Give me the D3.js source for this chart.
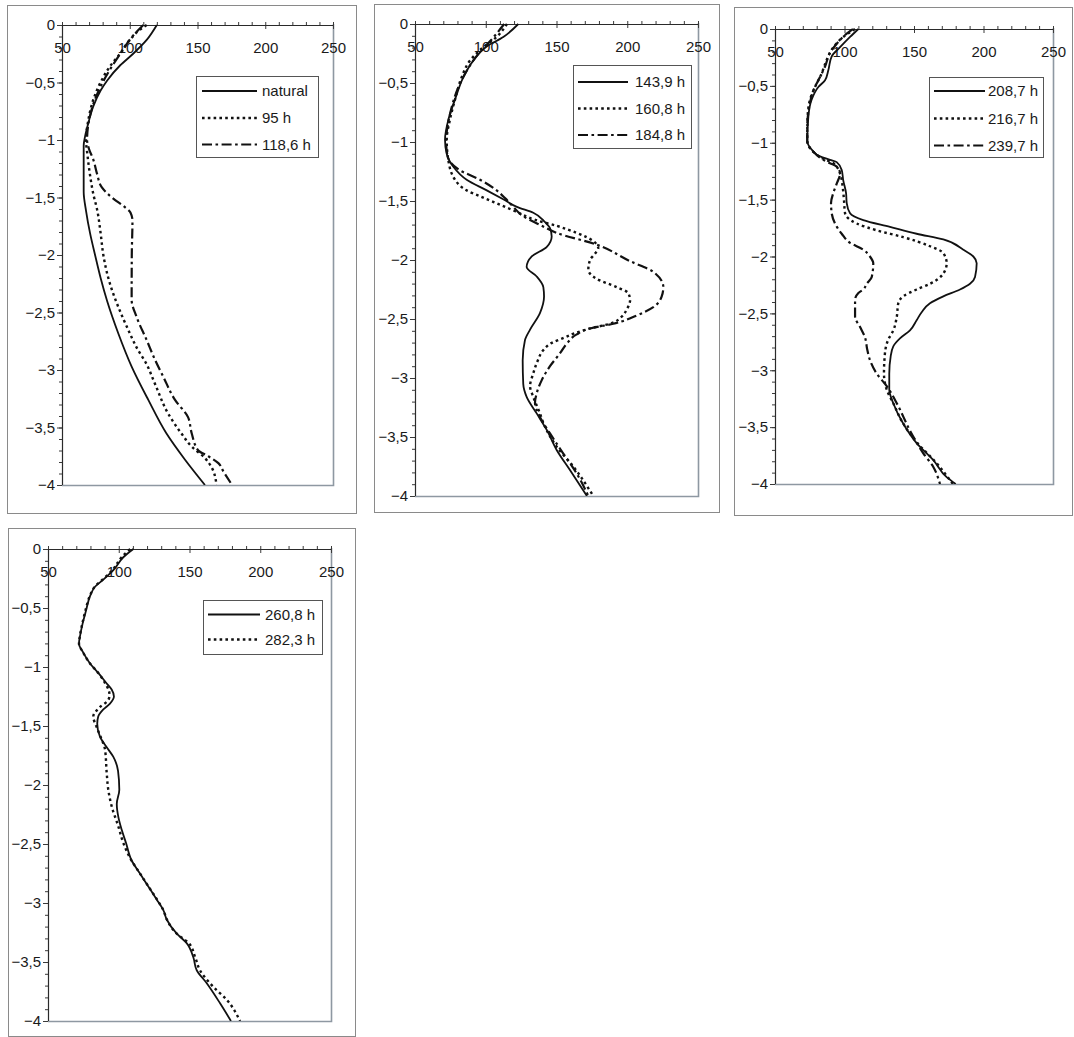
<!DOCTYPE html>
<html>
<head>
<meta charset="utf-8">
<script src="https://cdn.jsdelivr.net/npm/d3@7"></script>
<style>
  html, body { margin: 0; padding: 0; background: #fff; }
  svg { display: block; font-family: "Liberation Sans", Arial, sans-serif; }
</style>
</head>
<body>
<svg id="chart" width="1074" height="1037"></svg>
<script>
// Tick values shared by all four profiles
const xTicks = [50, 100, 150, 200, 250];
const yTicks = [0, -0.5, -1, -1.5, -2, -2.5, -3, -3.5, -4];

// Profiles: [depth, value]
const natural = [[0,120],[-0.13,112.5],[-0.25,102.5],[-0.35,93],[-0.48,83.5],[-0.57,78.5],[-0.71,73],[-0.85,69.5],[-0.97,67],[-1.05,66],[-1.45,66],[-1.62,67.8],[-1.81,70.7],[-2.0,74.4],[-2.2,78.5],[-2.4,83.3],[-2.68,91.5],[-2.97,101.4],[-3.26,113.7],[-3.55,127],[-3.78,140.8],[-4,155.5]];
const h95 = [[0,112.5],[-0.04,107.6],[-0.13,100],[-0.25,92.8],[-0.36,85.4],[-0.51,78],[-0.65,73.1],[-0.83,69.4],[-1.0,67.7],[-1.12,68.7],[-1.29,70.5],[-1.47,73.1],[-1.61,76],[-1.81,78.5],[-2.0,80.5],[-2.25,85.4],[-2.45,91.5],[-2.62,97.7],[-2.83,106.3],[-2.94,112],[-3.12,118.6],[-3.38,128.4],[-3.55,138],[-3.67,146],[-3.76,155],[-3.86,161],[-4,164]];
const h118_6 = [[0,110],[-0.1,102],[-0.25,93],[-0.5,80],[-0.75,71.5],[-1.0,68.5],[-1.08,70],[-1.17,73.1],[-1.3,76],[-1.41,79.3],[-1.46,83],[-1.52,89],[-1.58,96],[-1.63,100.5],[-1.7,102],[-2.0,101.5],[-2.39,101.4],[-2.54,105.1],[-2.74,112.5],[-2.91,118.6],[-3.06,124.8],[-3.26,133.4],[-3.41,143],[-3.55,145.7],[-3.7,150.6],[-3.75,158],[-3.81,165.4],[-3.88,169],[-4,175.5]];

const h143_9 = [[0,123],[-0.11,112.4],[-0.19,100.7],[-0.31,91.2],[-0.45,84.2],[-0.64,78.3],[-0.81,73.6],[-0.98,71.2],[-1.1,72.4],[-1.21,77.1],[-1.32,86.5],[-1.41,100.7],[-1.49,113],[-1.55,122],[-1.6,133.6],[-1.68,141.9],[-1.73,145.4],[-1.8,146.6],[-1.89,143],[-1.97,132.5],[-2.06,128.9],[-2.14,136],[-2.23,140.7],[-2.31,141.2],[-2.45,138.3],[-2.59,131.3],[-2.68,127.7],[-2.85,126.1],[-3.05,126.5],[-3.16,128.9],[-3.3,136],[-3.44,143.1],[-3.61,150.1],[-3.78,159.5],[-4,171.5]];
const h160_8 = [[0,115],[-0.11,107.7],[-0.22,96],[-0.31,88.9],[-0.45,83],[-0.61,79],[-0.81,74.7],[-0.98,72.4],[-1.15,73.5],[-1.32,78.3],[-1.41,86.5],[-1.46,96],[-1.52,107.7],[-1.58,119.5],[-1.66,135],[-1.71,150],[-1.77,164.3],[-1.84,176],[-1.9,179.5],[-1.95,177],[-2.0,173.7],[-2.08,172.5],[-2.16,178.4],[-2.23,192.5],[-2.28,200.7],[-2.34,202],[-2.42,199.6],[-2.48,196.1],[-2.54,187.8],[-2.58,173.7],[-2.62,163],[-2.66,155],[-2.7,147],[-2.76,141],[-2.86,136.5],[-2.96,133.6],[-3.07,131.3],[-3.16,133.6],[-3.3,138.3],[-3.38,140.7],[-3.58,150],[-3.75,161.9],[-4,176]];
const h184_8 = [[0,113],[-0.12,105],[-0.25,95],[-0.5,82],[-0.75,75],[-1.0,72],[-1.12,73],[-1.24,81.8],[-1.32,96],[-1.41,107.7],[-1.48,114],[-1.55,119.5],[-1.63,126.5],[-1.7,138],[-1.77,150.1],[-1.87,178.4],[-2.01,202],[-2.1,218.4],[-2.23,225.5],[-2.31,224.3],[-2.4,218.4],[-2.47,206.7],[-2.54,190.2],[-2.58,173.7],[-2.63,164.3],[-2.71,157.2],[-2.79,152.5],[-2.9,145.4],[-3.02,139.5],[-3.13,136],[-3.21,134.8],[-3.33,138.3],[-3.47,145.4],[-3.64,154.8],[-3.81,164.3],[-4,172.5]];

const h208_7 = [[0,110],[-0.07,104],[-0.16,96.8],[-0.24,90.8],[-0.36,88.4],[-0.45,86],[-0.51,81.2],[-0.62,76.4],[-0.77,74],[-0.98,73.2],[-1.06,76.4],[-1.12,82.4],[-1.15,89.6],[-1.17,94.4],[-1.24,98],[-1.33,99.1],[-1.44,101.1],[-1.53,101.6],[-1.62,104],[-1.68,113.5],[-1.74,132.7],[-1.8,151.9],[-1.85,171.1],[-1.94,185.5],[-2.0,192.7],[-2.06,195.1],[-2.18,193.9],[-2.24,190.3],[-2.29,183.1],[-2.35,171.1],[-2.41,161.5],[-2.49,155.5],[-2.56,151.9],[-2.65,147.1],[-2.72,139.9],[-2.79,135.1],[-2.88,133.2],[-3.03,132.2],[-3.17,132.2],[-3.29,135.1],[-3.47,142.3],[-3.64,151.9],[-3.79,163.9],[-3.94,173.5],[-4,180]];
const h216_7 = [[0,107.5],[-0.07,99.1],[-0.16,92],[-0.27,87.2],[-0.39,83.6],[-0.51,78.8],[-0.62,75.2],[-0.77,73.5],[-0.98,73.2],[-1.08,77.6],[-1.14,84.7],[-1.18,92],[-1.27,96.8],[-1.39,98.7],[-1.5,99.6],[-1.62,100.4],[-1.71,108.8],[-1.77,123.2],[-1.83,142.3],[-1.91,161.5],[-1.97,171.1],[-2.06,173.5],[-2.15,171.1],[-2.24,161.5],[-2.29,151.9],[-2.35,142.3],[-2.41,138.7],[-2.53,137.6],[-2.65,135.1],[-2.73,131.5],[-2.85,129.1],[-3.03,128.4],[-3.17,130.4],[-3.29,135.1],[-3.47,142.3],[-3.64,152.5],[-3.8,165],[-4,178]];
const h239_7 = [[0,106],[-0.04,101.6],[-0.13,94.4],[-0.21,89.6],[-0.33,86],[-0.45,81.2],[-0.54,77.6],[-0.68,74.7],[-0.86,73.2],[-0.98,73.2],[-1.08,77.6],[-1.15,84.7],[-1.18,89.6],[-1.21,94.4],[-1.27,96.8],[-1.36,94.4],[-1.44,92],[-1.53,90.3],[-1.62,90.8],[-1.71,93.2],[-1.8,98],[-1.88,104],[-1.94,113.5],[-2.0,118.3],[-2.06,120.7],[-2.18,119.6],[-2.24,116],[-2.29,113.5],[-2.32,110],[-2.38,107.6],[-2.53,107.6],[-2.62,111.2],[-2.71,114.7],[-2.82,116.4],[-2.91,118.3],[-3.03,123.2],[-3.14,130.4],[-3.29,137.6],[-3.53,147.1],[-3.73,156.7],[-3.85,163.9],[-4,168.7]];

const h260_8 = [[0,110.3],[-0.07,103.2],[-0.18,96.2],[-0.26,89.1],[-0.32,83.2],[-0.4,79.7],[-0.52,76.9],[-0.63,74.5],[-0.74,72.6],[-0.8,71.9],[-0.88,75],[-0.97,79.7],[-1.05,85.5],[-1.14,91.5],[-1.19,95],[-1.25,96.6],[-1.31,93.8],[-1.36,89.1],[-1.42,85.5],[-1.48,84.8],[-1.59,86.7],[-1.68,91.5],[-1.76,96.1],[-1.88,99.5],[-2.04,100.4],[-2.16,98.6],[-2.27,99.7],[-2.38,102.1],[-2.49,105.1],[-2.64,109.1],[-2.75,115],[-2.86,120.9],[-2.97,126.8],[-3.06,131.5],[-3.14,133.9],[-3.26,141],[-3.34,148],[-3.46,152.7],[-3.57,155.1],[-3.68,162.2],[-3.85,171.6],[-4,179.3]];
const h282_3 = [[0,108],[-0.07,102],[-0.18,95.5],[-0.26,88.5],[-0.32,83],[-0.4,79.5],[-0.52,76.5],[-0.63,74.3],[-0.74,72.5],[-0.8,71.9],[-0.88,75],[-0.97,79.7],[-1.05,85.5],[-1.14,90.5],[-1.2,93],[-1.24,93.5],[-1.28,92.6],[-1.34,86.7],[-1.42,82],[-1.51,84.4],[-1.6,87.5],[-1.7,90.3],[-1.9,91.5],[-2.04,92.6],[-2.18,95],[-2.35,99.7],[-2.49,103.2],[-2.64,109],[-2.75,115],[-2.86,121],[-2.97,127],[-3.06,131.5],[-3.14,134],[-3.26,141],[-3.34,149.5],[-3.46,154],[-3.57,157.4],[-3.71,166.8],[-3.82,176.3],[-4,185.7]];

// Line styles
const styles = {
  solid:   { width: 1.8, dash: null },
  dotted:  { width: 2.4, dash: "2.6,3.2" },
  dashdot: { width: 2.2, dash: "10,3.5,2.6,3.5" }
};

// Panel layout: outer frame, plot rectangle, legend placement
const panels = [
  { frame: [7, 5, 356, 513], plot: [62, 25, 333, 485],
    legend: { box: [196, 76, 318, 157], line: [202, 257], textX: 262, rows: [91, 118, 144.5] },
    series: [ { name: "natural", data: natural, style: "solid" },
              { name: "95 h", data: h95, style: "dotted" },
              { name: "118,6 h", data: h118_6, style: "dashdot" } ] },
  { frame: [374, 4, 719, 512], plot: [415, 24, 698, 496],
    legend: { box: [573, 65, 691, 148], line: [578, 628], textX: 635, rows: [82, 108.5, 135] },
    series: [ { name: "143,9 h", data: h143_9, style: "solid" },
              { name: "160,8 h", data: h160_8, style: "dotted" },
              { name: "184,8 h", data: h184_8, style: "dashdot" } ] },
  { frame: [734, 7, 1072, 515], plot: [775, 29, 1053, 484],
    legend: { box: [929, 77, 1043, 157], line: [934, 985], textX: 988, rows: [91, 118.5, 145.5] },
    series: [ { name: "208,7 h", data: h208_7, style: "solid" },
              { name: "216,7 h", data: h216_7, style: "dotted" },
              { name: "239,7 h", data: h239_7, style: "dashdot" } ] },
  { frame: [8, 528, 355, 1036], plot: [48, 549, 331, 1021],
    legend: { box: [203, 600, 322, 654], line: [208, 260], textX: 265, rows: [614.5, 639.5] },
    series: [ { name: "260,8 h", data: h260_8, style: "solid" },
              { name: "282,3 h", data: h282_3, style: "dotted" } ] }
];

// decimal comma, wide minus sign
const locale = d3.formatLocale({ decimal: ",", thousands: ".", grouping: [3], currency: ["", ""], minus: "\u2212" });
const fmt = locale.format("~g");

const svg = d3.select("#chart");
const xMinor = d3.range(50, 251, 10);
const yMinor = d3.range(0, 41).map(i => -i / 10);

panels.forEach((p, i) => {
  const [fx0, fy0, fx1, fy1] = p.frame;
  const [px0, py0, px1, py1] = p.plot;
  const g = svg.append("g");

  // outer chart frame
  g.append("rect")
    .attr("x", fx0 + 0.5).attr("y", fy0 + 0.5)
    .attr("width", fx1 - fx0).attr("height", fy1 - fy0)
    .attr("fill", "#fff").attr("stroke", "#8a8a8a").attr("stroke-width", 1);

  const x = d3.scaleLinear().domain([50, 250]).range([px0, px1]);
  const y = d3.scaleLinear().domain([0, -4]).range([py0, py1]);

  // plot area border (right and bottom, grey)
  g.append("path")
    .attr("d", `M${px0},${py1 + 0.5}H${px1 + 0.5}V${py0 - 1}`)
    .attr("fill", "none").attr("stroke", "#8e98a2").attr("stroke-width", 1.6);

  // x axis: minor ticks above, major ticks crossing with labels inside
  const xMinorAxis = g.append("g").attr("transform", `translate(0,${py0})`)
    .call(d3.axisTop(x).tickValues(xMinor).tickSize(3).tickFormat(""));
  xMinorAxis.select(".domain").remove();
  const xAxis = g.append("g").attr("transform", `translate(0,${py0})`)
    .call(d3.axisBottom(x).tickValues(xTicks).tickSize(4).tickPadding(13).tickFormat(fmt));
  xAxis.select(".domain").remove();

  // y axis
  const yMinorAxis = g.append("g").attr("transform", `translate(${px0},0)`)
    .call(d3.axisLeft(y).tickValues(yMinor).tickSize(3).tickFormat(""));
  yMinorAxis.select(".domain").remove();
  const yAxis = g.append("g").attr("transform", `translate(${px0},0)`)
    .call(d3.axisLeft(y).tickValues(yTicks).tickSize(5).tickPadding(2).tickFormat(fmt));
  yAxis.select(".domain").remove();

  g.selectAll(".tick line").attr("stroke", "#3a3a3a");
  g.selectAll(".tick text").attr("fill", "#1a1a1a")
    .style("font-size", "15px").style("font-family", '"Liberation Sans", Arial, sans-serif');

  // axis lines (top and left)
  g.append("path")
    .attr("d", `M${px0 + 0.5},${py1}V${py0 + 0.5}H${px1}`)
    .attr("fill", "none").attr("stroke", "#2a2a2a").attr("stroke-width", 1.2);

  // profiles
  const clipId = "clip" + i;
  g.append("clipPath").attr("id", clipId)
    .append("rect").attr("x", px0).attr("y", py0 - 2).attr("width", px1 - px0).attr("height", py1 - py0 + 2);

  const line = d3.line()
    .x(d => x(d[1]))
    .y(d => y(d[0]))
    .curve(d3.curveMonotoneY);

  const lines = g.append("g").attr("clip-path", `url(#${clipId})`);
  p.series.forEach(s => {
    const st = styles[s.style];
    lines.append("path")
      .datum(s.data)
      .attr("d", line)
      .attr("fill", "none")
      .attr("stroke", "#111")
      .attr("stroke-width", st.width)
      .attr("stroke-dasharray", st.dash)
      .attr("stroke-linejoin", "round");
  });

  // legend
  const L = p.legend;
  const lg = g.append("g");
  lg.append("rect")
    .attr("x", L.box[0] + 0.5).attr("y", L.box[1] + 0.5)
    .attr("width", L.box[2] - L.box[0]).attr("height", L.box[3] - L.box[1])
    .attr("fill", "#fff").attr("stroke", "#555").attr("stroke-width", 1);
  p.series.forEach((s, k) => {
    const st = styles[s.style];
    const ry = L.rows[k];
    lg.append("line")
      .attr("x1", L.line[0]).attr("x2", L.line[1])
      .attr("y1", ry).attr("y2", ry)
      .attr("stroke", "#111")
      .attr("stroke-width", st.width)
      .attr("stroke-dasharray", st.dash);
    lg.append("text")
      .attr("x", L.textX).attr("y", ry)
      .attr("dy", "0.35em")
      .attr("fill", "#1a1a1a")
      .style("font-size", "15px")
      .text(s.name);
  });
});
</script>
</body>
</html>
